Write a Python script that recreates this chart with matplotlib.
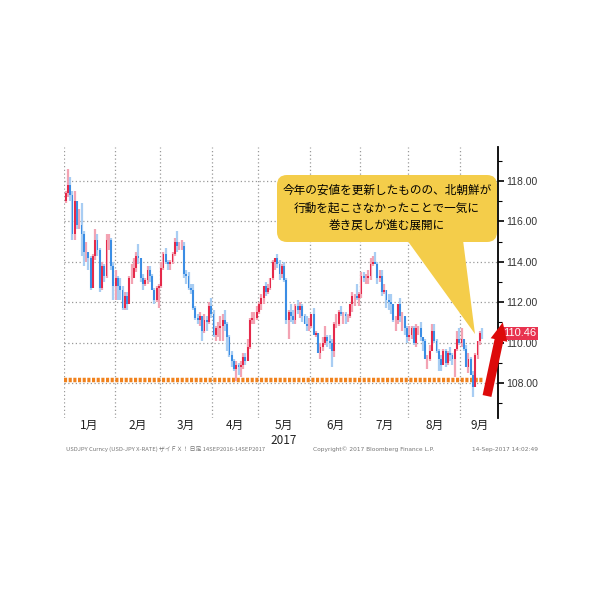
import numpy as np
import pandas as pd
import matplotlib
matplotlib.use("Agg")
from matplotlib import pyplot as plt
from matplotlib.patches import FancyBboxPatch, Polygon, FancyArrow

plt.rcParams["font.family"] = ["Noto Sans CJK JP", "DejaVu Sans"]

# USD/JPY daily bars, 2 Jan 2017 - 14 Sep 2017 (business days)
opens = [
    # Jan
    117.0, 117.4, 117.8, 117.3, 115.4, 117.0, 115.8, 115.8, 115.4, 114.5, 114.5,
    114.2, 112.7, 114.3, 115.1, 114.6, 112.7, 113.8, 113.3, 115.1, 115.1, 113.8,
    # Feb
    112.8, 113.2, 112.8, 112.6, 111.7, 112.3, 111.9, 113.2, 113.2, 113.7,
    114.3, 114.2, 113.2, 112.9, 113.1, 113.6, 113.3, 112.6, 112.1, 112.7,
    # Mar
    112.8, 113.7, 114.4, 114.0, 113.9, 114.0, 114.4, 115.0, 114.8, 114.8, 114.8, 113.4,
    113.3, 112.7, 112.6, 111.7, 111.2, 111.1, 111.3, 110.6, 111.1, 111.0, 111.8,
    # Apr
    111.4, 110.4, 110.7, 110.7, 110.8, 111.1, 110.9, 110.3, 109.4, 109.1,
    108.7, 108.9, 108.8, 108.9, 109.3, 109.1, 109.8, 111.1, 111.2, 111.2,
    # May
    111.5, 111.9, 112.2, 112.8, 112.5, 112.7, 113.2, 114.0, 114.2, 113.9, 113.4, 113.8,
    113.1, 111.1, 111.5, 111.3, 111.1, 111.8, 111.6, 111.8, 111.3, 110.9, 110.8,
    # Jun
    110.8, 111.4, 110.4, 110.5, 109.5, 109.8, 110.0, 110.3, 110.1, 110.0, 109.6,
    110.9, 110.9, 111.5, 111.4, 111.4, 111.3, 111.3, 111.9, 112.3, 112.3, 112.2,
    # Jul
    112.4, 113.3, 113.2, 113.2, 113.3, 113.9, 114.0, 113.9, 113.2, 113.3, 112.5,
    112.6, 112.1, 112.0, 111.9, 111.1, 111.1, 111.9, 111.3, 111.3, 110.7,
    # Aug
    110.3, 110.4, 110.7, 110.0, 110.7, 110.7, 110.3, 110.1, 109.2, 109.2, 109.6, 110.6,
    110.1, 109.6, 109.2, 108.9, 109.6, 109.0, 109.5, 109.4, 109.2, 109.7, 110.2,
    # Sep
    110.0, 110.2, 109.7, 108.8, 109.2, 108.4, 107.8, 109.4, 110.1, 110.5,
]
highs = [
    117.5, 118.6, 118.2, 117.5, 117.5, 117.0, 116.6, 116.9, 115.5, 115.0, 114.5,
    114.3, 114.4, 115.6, 115.4, 114.7, 114.0, 113.9, 115.4, 115.4, 115.2, 114.0,
    113.6, 113.3, 113.2, 112.8, 112.5, 112.5, 113.3, 113.9, 114.2, 114.5,
    114.9, 114.2, 113.4, 113.2, 113.8, 113.8, 113.4, 112.7, 112.8, 112.9,
    114.0, 114.5, 114.7, 114.1, 114.1, 114.5, 115.2, 115.5, 115.0, 115.1, 115.0, 113.6,
    113.5, 112.9, 112.9, 111.8, 111.4, 111.5, 111.3, 111.4, 111.3, 112.0, 112.2,
    111.6, 110.8, 111.0, 111.3, 111.4, 111.6, 111.0, 110.4, 109.6, 109.2,
    109.1, 109.0, 109.1, 109.5, 109.5, 110.2, 111.2, 111.5, 111.5, 111.8,
    112.0, 112.4, 112.8, 113.0, 112.9, 113.2, 114.1, 114.2, 114.4, 114.1, 113.9, 114.0,
    113.2, 111.6, 111.9, 111.6, 111.9, 112.1, 112.0, 111.9, 111.4, 111.3, 111.2,
    111.4, 111.7, 110.6, 110.5, 110.0, 110.3, 110.8, 110.4, 110.4, 110.2, 111.0,
    111.4, 111.6, 111.8, 111.5, 111.5, 111.4, 111.9, 112.5, 112.4, 112.9, 112.5,
    113.5, 113.5, 113.4, 113.6, 114.2, 114.3, 114.5, 114.0, 113.6, 113.6, 112.9,
    112.6, 112.4, 112.4, 111.9, 111.3, 111.9, 112.2, 111.5, 111.3, 110.8,
    110.8, 110.8, 110.8, 110.9, 110.8, 111.0, 110.3, 110.2, 109.4, 109.9, 110.9, 110.9,
    110.2, 109.7, 109.4, 109.7, 109.7, 109.6, 109.8, 109.5, 109.6, 110.6, 110.7,
    110.7, 110.2, 109.9, 109.5, 109.3, 108.6, 109.5, 110.1, 110.6, 110.7,
]
lows = [
    116.9, 117.2, 117.0, 115.1, 115.1, 115.6, 115.6, 114.3, 113.8, 114.0, 113.6,
    112.6, 112.7, 114.1, 114.3, 112.5, 112.6, 113.0, 113.2, 114.6, 113.6, 112.1,
    112.1, 112.1, 112.1, 111.6, 111.6, 111.6, 111.9, 112.9, 113.2, 113.5,
    113.9, 113.0, 112.6, 112.8, 112.9, 113.0, 112.6, 111.9, 112.0, 111.7,
    112.7, 113.6, 113.9, 113.6, 113.6, 113.9, 114.3, 114.5, 114.6, 114.6, 113.2, 112.9,
    112.6, 112.4, 111.6, 111.1, 110.9, 110.8, 110.1, 110.5, 110.6, 110.9, 111.2,
    110.3, 110.1, 110.3, 110.1, 110.1, 110.6, 109.6, 109.3, 108.8, 108.6,
    108.1, 108.4, 108.3, 108.7, 108.9, 109.1, 109.7, 110.9, 110.9, 111.1,
    111.4, 111.6, 111.9, 112.3, 112.4, 112.6, 113.1, 113.6, 113.7, 113.1, 113.2, 113.0,
    110.9, 110.2, 111.0, 110.9, 110.9, 111.4, 111.2, 111.0, 110.9, 110.6, 110.6,
    110.7, 110.4, 110.3, 109.5, 109.2, 109.6, 109.9, 109.8, 109.7, 108.8, 109.3,
    110.7, 110.8, 111.3, 110.9, 110.9, 111.0, 111.2, 111.5, 111.8, 112.1, 111.8,
    112.2, 113.0, 112.9, 112.9, 113.1, 113.8, 113.9, 112.9, 113.0, 112.3, 112.4,
    111.7, 111.6, 111.4, 111.0, 110.6, 110.9, 111.0, 110.6, 110.4, 110.0,
    110.1, 110.2, 109.9, 109.8, 110.4, 110.1, 109.6, 109.2, 108.7, 109.1, 109.6, 110.0,
    109.5, 108.6, 108.6, 108.9, 108.8, 108.9, 109.1, 108.9, 108.3, 109.6, 109.9,
    109.8, 109.6, 108.8, 108.5, 108.4, 107.3, 107.8, 109.2, 109.9, 110.2,
]
closes = [
    117.4, 117.8, 117.3, 115.4, 117.0, 115.8, 115.8, 115.4, 114.5, 114.5, 114.2,
    112.7, 114.3, 115.1, 114.6, 112.7, 113.8, 113.3, 115.1, 115.1, 113.8, 112.8,
    113.2, 112.8, 112.6, 111.7, 112.3, 111.9, 113.2, 113.2, 113.7, 114.3,
    114.2, 113.2, 112.9, 113.1, 113.6, 113.3, 112.6, 112.1, 112.7, 112.8,
    113.7, 114.4, 114.0, 113.9, 114.0, 114.4, 115.0, 114.8, 114.8, 114.8, 113.4, 113.3,
    112.7, 112.6, 111.7, 111.2, 111.1, 111.3, 110.6, 111.1, 111.0, 111.8, 111.4,
    110.4, 110.7, 110.7, 110.8, 111.1, 110.9, 110.3, 109.4, 109.1, 108.7,
    108.9, 108.8, 108.9, 109.3, 109.1, 109.8, 111.1, 111.2, 111.2, 111.5,
    111.9, 112.2, 112.8, 112.5, 112.7, 113.2, 114.0, 114.2, 113.9, 113.4, 113.8, 113.1,
    111.1, 111.5, 111.3, 111.1, 111.8, 111.6, 111.8, 111.3, 110.9, 110.8, 110.8,
    111.4, 110.4, 110.5, 109.5, 109.8, 110.0, 110.3, 110.1, 110.0, 109.6, 110.9,
    110.9, 111.5, 111.4, 111.4, 111.3, 111.3, 111.9, 112.3, 112.3, 112.2, 112.4,
    113.3, 113.2, 113.2, 113.3, 113.9, 114.0, 113.9, 113.2, 113.3, 112.5, 112.6,
    112.1, 112.0, 111.9, 111.1, 111.1, 111.9, 111.3, 111.3, 110.7, 110.3,
    110.4, 110.7, 110.0, 110.7, 110.7, 110.3, 110.1, 109.2, 109.2, 109.6, 110.6, 110.1,
    109.6, 109.2, 108.9, 109.6, 109.0, 109.5, 109.4, 109.2, 109.7, 110.2, 110.0,
    110.2, 109.7, 108.8, 109.2, 108.4, 107.8, 109.4, 110.1, 110.5, 110.46,
]
dates = pd.bdate_range("2017-01-02", "2017-09-14")
month_labels = ["1月", "2月", "3月", "4月", "5月", "6月", "7月", "8月", "9月"]
year_low = 108.13
last_price = 110.46

note = "今年の安値を更新したものの、北朝鮮が\n行動を起こさなかったことで一気に\n巻き戻しが進む展開に"
footer_left = "USDJPY Curncy (USD-JPY X-RATE) ザイＦＸ！ 日足 14SEP2016-14SEP2017"
footer_mid = "Copyright© 2017 Bloomberg Finance L.P."
footer_right = "14-Sep-2017 14:02:49"

o = np.array(opens)
h = np.array(highs)
lo = np.array(lows)
c = np.array(closes)
x = np.arange(len(dates))
up = c >= o

fig = plt.figure(figsize=(6, 6), dpi=100)
ax = fig.add_axes([0.1067, 0.3033, 0.7233, 0.4517])

# wicks (pale) then bodies (saturated)
ax.vlines(x[up], lo[up], h[up], color="#f3a3b3", lw=1.6, zorder=3)
ax.vlines(x[~up], lo[~up], h[~up], color="#a8cdf3", lw=1.6, zorder=3)
ax.bar(x[up], c[up] - o[up], bottom=o[up], width=0.8, color="#e5294a", zorder=4)
ax.bar(x[~up], c[~up] - o[~up], bottom=o[~up], width=0.8, color="#3b8de4", zorder=4)

# month gridlines / labels
months = dates.month.to_numpy()
starts = [int(np.argmax(months == m)) for m in range(1, 10)]
for s in starts:
    ax.axvline(s - 0.5, color="#999999", lw=0.9, ls=(0, (1, 2)), zorder=1)
ends = starts[1:] + [starts[-1] + 17]
centers = [(a + b) / 2 - 0.5 for a, b in zip(starts, ends)]
ax.set_xticks(centers)
ax.set_xticklabels(month_labels, fontsize=8.5, color="#222222")
ax.tick_params(axis="x", length=0, pad=1)
ax.text(centers[4], -0.082, "2017", transform=ax.get_xaxis_transform(),
        ha="center", va="center", fontsize=8.5, color="#222222")

# year-low line
ax.hlines(year_low, -0.7, len(x) - 0.5, color="#f0821e", lw=3.2,
          ls=(0, (0.7, 0.35)), zorder=2)

ax.set_xlim(-0.7, 190)
ax.set_ylim(106.27, 119.68)
ax.set_yticks(np.arange(108, 119, 2))
ax.set_yticks(np.arange(107, 120, 2), minor=True)
ax.yaxis.set_major_formatter(matplotlib.ticker.FormatStrFormatter("%.2f"))
ax.yaxis.tick_right()
ax.tick_params(axis="y", which="major", direction="out", length=4, width=1.2,
               colors="black", labelsize=7.5, labelcolor="#333333", pad=2)
ax.tick_params(axis="y", which="minor", direction="out", length=3, width=0.8)
for lab in ax.get_yticklabels():
    lab.set_family("Liberation Sans")
ax.grid(axis="y", color="#999999", lw=0.9, ls=(0, (1, 2)), zorder=1)
for side in ["left", "top", "bottom"]:
    ax.spines[side].set_visible(False)
ax.spines["right"].set_linewidth(1.3)

# last price tag
ax.text(1.012, last_price, f"{last_price:.2f}", transform=ax.get_yaxis_transform(),
        ha="left", va="center", fontsize=8, color="white", family="Liberation Sans",
        bbox=dict(boxstyle="square,pad=0.15", fc="#e8334f", ec="none"), clip_on=False)

# speech bubble (figure pixel coords / 600)
px = 1 / 600
bubble = FancyBboxPatch((285 * px, 366 * px), 204 * px, 51 * px,
                        boxstyle=f"round,pad={8 * px},rounding_size={10 * px}",
                        transform=fig.transFigure, fc="#f4cd4a", ec="none", zorder=10)
fig.patches.append(bubble)
tail = Polygon([(407 * px, 360 * px), (463 * px, 360 * px), (475 * px, 266 * px)],
               closed=True, transform=fig.transFigure, fc="#f4cd4a", ec="none", zorder=10)
fig.patches.append(tail)
fig.text(387 * px, 392 * px, note, ha="center", va="center", fontsize=8.4,
         linespacing=1.5, color="black", zorder=11)

# red arrow
arrow = FancyArrow(487 * px, 204 * px, 12 * px, 56 * px, width=9 * px,
                   head_width=17 * px, head_length=18 * px, length_includes_head=False,
                   transform=fig.transFigure, fc="#dd0a0a", ec="none", zorder=12)
fig.patches.append(arrow)

# footer
fig.text(66 * px, 151 * px, footer_left, fontsize=4.2, color="#777777", va="center")
fig.text(313 * px, 151 * px, footer_mid, fontsize=4.2, color="#777777", va="center",
         family="DejaVu Sans")
fig.text(538 * px, 151 * px, footer_right, fontsize=4.2, color="#777777", va="center",
         ha="right", family="DejaVu Sans")

fig.savefig("out.png", dpi=100, facecolor="white")
plt.close(fig)
